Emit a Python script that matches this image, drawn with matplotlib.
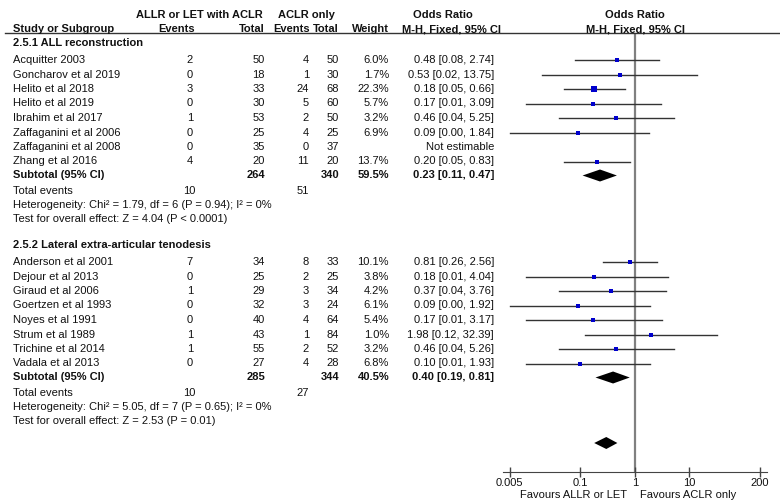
import numpy as np
import matplotlib
matplotlib.use('Agg')
import matplotlib.pyplot as plt

plt.rcParams['font.family'] = ['Liberation Sans', 'DejaVu Sans']
plt.rcParams['font.size'] = 8

# group 1: ALL reconstruction
studies1 = ['Acquitter 2003', 'Goncharov et al 2019', 'Helito et al 2018', 'Helito et al 2019',
            'Ibrahim et al 2017', 'Zaffaganini et al 2006', 'Zaffaganini et al 2008', 'Zhang et al 2016']
ev_exp1 = [2, 0, 3, 0, 1, 0, 0, 4]
tot_exp1 = [50, 18, 33, 30, 53, 25, 35, 20]
ev_ctl1 = [4, 1, 24, 5, 2, 4, 0, 11]
tot_ctl1 = [50, 30, 68, 60, 50, 25, 37, 20]
weight1 = [6.0, 1.7, 22.3, 5.7, 3.2, 6.9, None, 13.7]
or1 = [0.48, 0.53, 0.18, 0.17, 0.46, 0.09, None, 0.20]
lo1 = [0.08, 0.02, 0.05, 0.01, 0.04, 0.00, None, 0.05]
hi1 = [2.74, 13.75, 0.66, 3.09, 5.25, 1.84, None, 0.83]
sub1 = (0.23, 0.11, 0.47)

# group 2: lateral extra-articular tenodesis
studies2 = ['Anderson et al 2001', 'Dejour et al 2013', 'Giraud et al 2006', 'Goertzen et al 1993',
            'Noyes et al 1991', 'Strum et al 1989', 'Trichine et al 2014', 'Vadala et al 2013']
ev_exp2 = [7, 0, 1, 0, 0, 1, 1, 0]
tot_exp2 = [34, 25, 29, 32, 40, 43, 55, 27]
ev_ctl2 = [8, 2, 3, 3, 4, 1, 2, 4]
tot_ctl2 = [33, 25, 34, 24, 64, 84, 52, 28]
weight2 = [10.1, 3.8, 4.2, 6.1, 5.4, 1.0, 3.2, 6.8]
or2 = [0.81, 0.18, 0.37, 0.09, 0.17, 1.98, 0.46, 0.10]
lo2 = [0.26, 0.01, 0.04, 0.00, 0.01, 0.12, 0.04, 0.01]
hi2 = [2.56, 4.04, 3.76, 1.92, 3.17, 32.39, 5.26, 1.93]
sub2 = (0.40, 0.19, 0.81)

overall = (0.30, 0.18, 0.48)

W, H = 780, 504
fig = plt.figure(figsize=(W / 100, H / 100), dpi=100)

def t(x, y, s, ha='left', bold=False):
    fig.text(x / W, 1 - y / H, s, ha=ha, va='center',
             fontweight='bold' if bold else 'normal', color='#111111')

# header
t(199, 15, 'ALLR or LET with ACLR', 'center', True)
t(306, 15, 'ACLR only', 'center', True)
t(443, 15, 'Odds Ratio', 'center', True)
t(635, 15, 'Odds Ratio', 'center', True)
t(13, 29, 'Study or Subgroup', bold=True)
t(195, 29, 'Events', 'right', True)
t(265, 29, 'Total', 'right', True)
t(310, 29, 'Events', 'right', True)
t(339, 29, 'Total', 'right', True)
t(389, 29, 'Weight', 'right', True)
t(451, 29, 'M-H, Fixed, 95% CI', 'center', True)
t(635, 29, 'M-H, Fixed, 95% CI', 'center', True)
fig.add_artist(plt.Line2D([5 / W, 1], [1 - 33 / H, 1 - 33 / H], color='#333333', lw=1))

# forest axes, y in pixel rows
ax = fig.add_axes([503 / W, 1 - 472 / H, 264 / W, (472 - 33) / H])
ax.set_xscale('log')
ax.set_xlim(0.005 / 10 ** 0.12, 200 * 10 ** 0.13)
ax.set_ylim(472, 33)
for s in ['top', 'left', 'right']:
    ax.spines[s].set_visible(False)
ax.spines['bottom'].set_color('#444444')
ax.set_yticks([])
ax.set_xticks([0.005, 0.1, 1, 10, 200])
ax.set_xticklabels(['0.005', '0.1', '1', '10', '200'])
ax.xaxis.set_minor_locator(matplotlib.ticker.NullLocator())
ax.tick_params(axis='x', direction='inout', length=7, width=1, color='#444444', pad=1,
               labelsize=8, labelcolor='#111111')
ax.axvline(1, color='#808080', lw=1.6, zorder=1)
ax.patch.set_visible(False)

xmin = 0.005

def diamond(y, est, lo, hi, h=6):
    ax.fill([lo, est, hi, est], [y, y - h, y, y + h], color='black', zorder=3, lw=0)

def group(y0, title, studies, ee, te, ec, tc, wt, ors, los, his, sub, tot_e, tot_c, sw, het, test):
    t(13, y0, title, bold=True)
    ys = [y0 + 17 + 14.5 * i for i in range(len(studies))]
    for i, y in enumerate(ys):
        t(13, y, studies[i])
        t(193, y, str(ee[i]), 'right')
        t(265, y, str(te[i]), 'right')
        t(309, y, str(ec[i]), 'right')
        t(339, y, str(tc[i]), 'right')
        if ors[i] is None:
            t(494, y, 'Not estimable', 'right')
            continue
        t(389, y, '%.1f%%' % wt[i], 'right')
        t(494, y, '%.2f [%.2f, %.2f]' % (ors[i], los[i], his[i]), 'right')
        ax.plot([max(los[i], xmin), his[i]], [y, y], color='#333333', lw=1, zorder=2)
        ax.plot([ors[i]], [y], marker='s', color='#0000cc', lw=0,
                markersize=max(2.2, 0.95 * np.sqrt(wt[i])), markeredgewidth=0, zorder=3)
    ysub = ys[-1] + 14
    t(13, ysub, 'Subtotal (95% CI)', bold=True)
    t(265, ysub, str(sum(te)), 'right', True)
    t(339, ysub, str(sum(tc)), 'right', True)
    t(389, ysub, sw, 'right', True)
    t(494, ysub, '%.2f [%.2f, %.2f]' % sub, 'right', True)
    diamond(ysub, *sub)
    t(13, ysub + 15, 'Total events')
    t(195, ysub + 15, str(tot_e), 'right')
    t(309, ysub + 15, str(tot_c), 'right')
    t(13, ysub + 30, het)
    t(13, ysub + 44, test)

group(43, '2.5.1 ALL reconstruction', studies1, ev_exp1, tot_exp1, ev_ctl1, tot_ctl1, weight1,
      or1, lo1, hi1, sub1, sum(ev_exp1), sum(ev_ctl1), '59.5%',
      'Heterogeneity: Chi² = 1.79, df = 6 (P = 0.94); I² = 0%',
      'Test for overall effect: Z = 4.04 (P < 0.0001)')
group(245, '2.5.2 Lateral extra-articular tenodesis', studies2, ev_exp2, tot_exp2, ev_ctl2, tot_ctl2,
      weight2, or2, lo2, hi2, sub2, sum(ev_exp2), sum(ev_ctl2), '40.5%',
      'Heterogeneity: Chi² = 5.05, df = 7 (P = 0.65); I² = 0%',
      'Test for overall effect: Z = 2.53 (P = 0.01)')

diamond(443, *overall)

t(627, 495, 'Favours ALLR or LET', 'right')
t(640, 495, 'Favours ACLR only')

fig.savefig('out.png', dpi=100)
